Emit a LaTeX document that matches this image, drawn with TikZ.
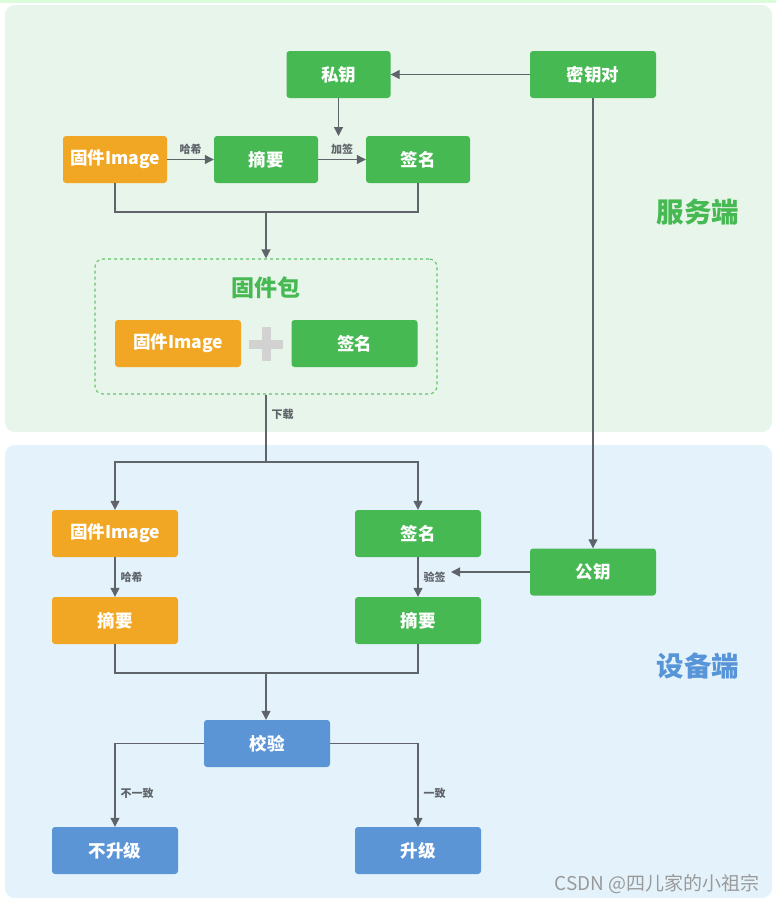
\documentclass[tikz,border=0pt]{standalone}
\usepackage{fontspec}
\setmainfont{Noto Sans CJK SC}
\usetikzlibrary{arrows.meta,positioning}

\definecolor{boxgreen}{HTML}{46B952}
\definecolor{boxorange}{HTML}{F2A724}
\definecolor{boxblue}{HTML}{5B95D6}
\definecolor{linegray}{HTML}{5F636A}
\definecolor{srvbg}{HTML}{E8F5EA}
\definecolor{devbg}{HTML}{E4F3FB}
\definecolor{devtitle}{HTML}{5894D8}
\definecolor{plusgray}{HTML}{D2D2D2}
\definecolor{markgray}{HTML}{9A9A9A}

\tikzset{
    blk/.style={rectangle, rounded corners=3pt, minimum width=104pt, minimum height=47pt,
        inner sep=0pt, text=white, font=\fontsize{17.5}{18}\selectfont\bfseries},
    wideblk/.style={blk, minimum width=126pt},
    greenblk/.style={blk, fill=boxgreen},
    orangeblk/.style={blk, fill=boxorange},
    blueblk/.style={wideblk, fill=boxblue},
    flow/.style={draw=linegray, line width=1.2pt, -{Triangle[length=9pt,width=9pt]}},
    wire/.style={draw=linegray, line width=1.2pt},
    lbl/.style={text=linegray, font=\fontsize{11}{11}\selectfont\bfseries, inner sep=0pt}
}

\begin{document}
\begin{tikzpicture}[x=1pt, y=-1pt]
    \useasboundingbox (0, 0) rectangle (776, 903);
    \fill[white] (0, 0) rectangle (776, 903);
    \fill[srvbg!70!green!40] (0, 0) rectangle (776, 2.5);
    % two panels
    \fill[srvbg, rounded corners=10pt] (5, 5) rectangle (772, 432);
    \fill[devbg, rounded corners=10pt] (5, 445) rectangle (772, 898);
    \node[text=boxgreen, font=\fontsize{27.5}{28}\selectfont\bfseries] (srvtitle) at (698, 212) {服务端};
    \node[text=devtitle, font=\fontsize{27.5}{28}\selectfont\bfseries] (devtitle) at (698, 666) {设备端};

    % server side
    \node[greenblk] (spriv) at (338.5, 74.5) {私钥};
    \node[greenblk, wideblk] (skeypair) at (593, 74.5) {密钥对};
    \node[orangeblk] (simage) at (115, 159.5) {固件Image};
    \node[greenblk] (sdigest) at (266, 159.5) {摘要};
    \node[greenblk] (ssign) at (418, 159.5) {签名};
    \coordinate (signin) at (338.5, 136);
    \coordinate (sjoin) at (266, 212);

    \node[draw=boxgreen!85, dash pattern=on 3pt off 3pt, line width=1.1pt, rounded corners=8pt,
        minimum width=342pt, minimum height=135pt] (pkg) at (266, 326.5) {};
    \node[text=boxgreen, font=\fontsize{23}{23}\selectfont\bfseries] (pkgtitle) at (266, 288) {固件包};
    \node[orangeblk, wideblk] (pkgimg) at (178, 343.5) {固件Image};
    \node[greenblk, wideblk] (pkgsign) at (354.5, 343.5) {签名};
    \fill[plusgray] (249, 339.5) rectangle (283, 348.5);
    \fill[plusgray] (261.5, 327) rectangle (270.5, 361);

    \draw[flow] (skeypair) -- (spriv);
    \draw[flow] (spriv) -- (signin);
    \draw[flow] (simage) -- node[lbl, above=4pt] {哈希} (sdigest);
    \draw[flow] (sdigest) -- node[lbl, above=4pt] {加签} (ssign);
    \draw[wire] (simage.south) |- (sjoin) -| (ssign.south);
    \draw[flow] (sjoin) -- (pkg.north);

    % device side
    \node[orangeblk, wideblk] (dimage) at (115, 533.5) {固件Image};
    \node[greenblk, wideblk] (dsign) at (418, 533.5) {签名};
    \node[greenblk, wideblk] (dpub) at (593, 572) {公钥};
    \node[orangeblk, wideblk] (ddigest) at (115, 620.5) {摘要};
    \node[greenblk, wideblk] (dsigdigest) at (418, 620.5) {摘要};
    \node[blueblk] (dcheck) at (267, 743.5) {校验};
    \node[blueblk] (dno) at (115, 850.5) {不升级};
    \node[blueblk] (dyes) at (418, 850.5) {升级};
    \coordinate (dsplit) at (266, 462);
    \coordinate (verin) at (451, 572);
    \coordinate (djoin) at (266, 673);

    \draw[wire] (pkg.south) -- node[lbl, right=5pt, pos=0.3] {下载} (dsplit);
    \draw[flow] (dsplit) -| (dimage.north);
    \draw[flow] (dsplit) -| (dsign.north);
    \draw[flow] (skeypair) -- (dpub);
    \draw[flow] (dimage) -- node[lbl, right=5pt] {哈希} (ddigest);
    \draw[flow] (dsign) -- node[lbl, right=5pt] (verlbl) {验签} (dsigdigest);
    \draw[flow] (dpub) -- (verin);
    \draw[wire] (ddigest.south) |- (djoin) -| (dsigdigest.south);
    \draw[flow] (djoin) -- (djoin |- dcheck.north);
    \draw[flow] (dcheck) -| node[lbl, right=5pt, pos=0.80] {不一致} (dno);
    \draw[flow] (dcheck) -| node[lbl, right=5pt, pos=0.80] {一致} (dyes);

    \node[text=markgray, font=\fontsize{19}{19}\selectfont, anchor=east] (mark) at (763, 884) {CSDN @四儿家的小祖宗};
\end{tikzpicture}
\end{document}
